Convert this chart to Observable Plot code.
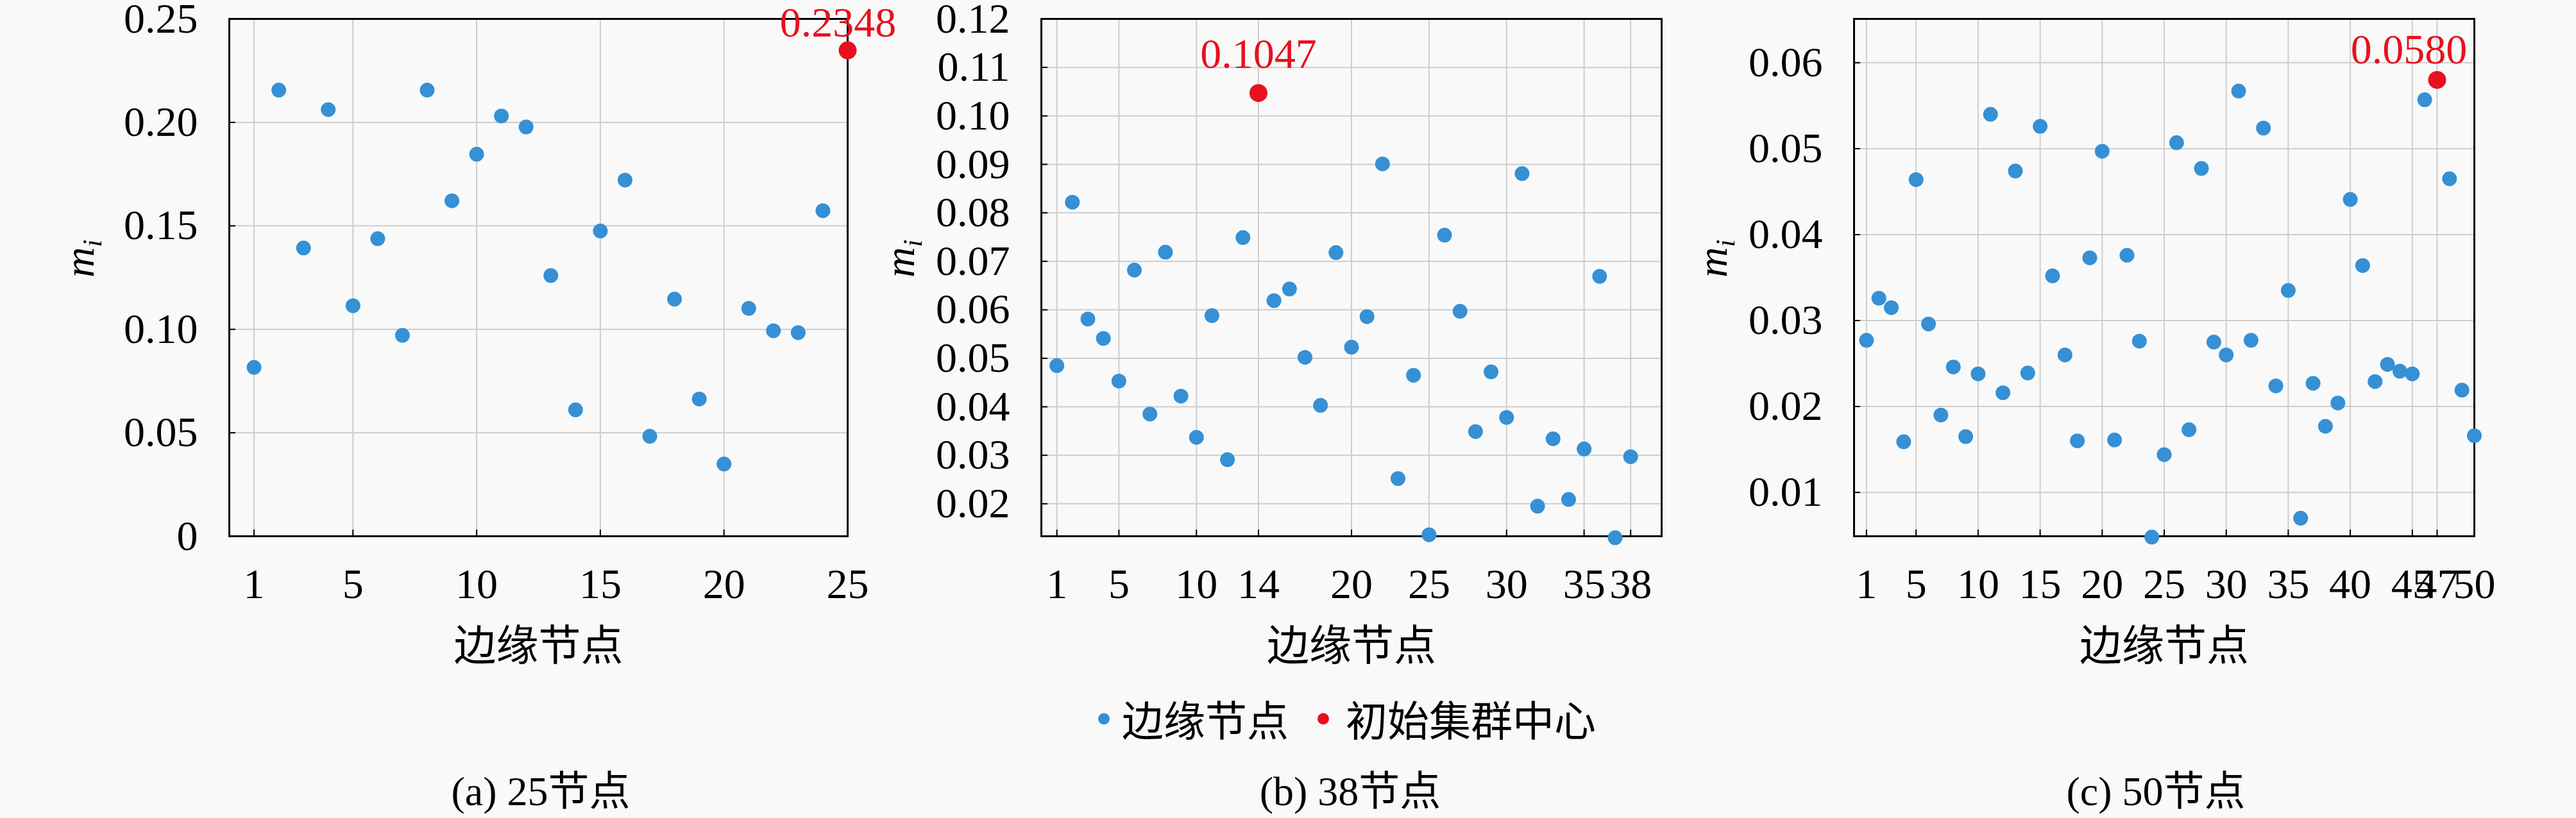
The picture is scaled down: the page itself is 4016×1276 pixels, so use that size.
<!DOCTYPE html>
<html><head><meta charset="utf-8">
<script src="https://cdn.jsdelivr.net/npm/d3@7"></script>
<script src="https://cdn.jsdelivr.net/npm/@observablehq/plot@0.6"></script>
<style>
html,body{margin:0;padding:0;background:#f9f9f9;}
#root{position:relative;width:4016px;height:1276px;overflow:hidden;background:#f9f9f9;}
.panel{position:absolute;top:0;font-family:"Liberation Serif",serif;}
.cap{position:absolute;top:1235px;transform:translate(-50%,-50%);font-family:"Liberation Serif","Noto Sans CJK SC",serif;font-size:64px;line-height:1.1;white-space:nowrap;color:#000;}
.legend{position:absolute;left:1712px;top:1121px;transform:translateY(-50%);display:flex;align-items:center;font-family:"Noto Sans CJK SC",sans-serif;font-size:65px;line-height:1.1;white-space:nowrap;color:#000;}
.sw{display:inline-block;width:18px;height:18px;border-radius:50%;}
</style></head><body><div id="root"></div>
<script>
// ---- text ----
const seriesNames = ["边缘节点", "初始集群中心"];
const seriesColors = ["#3590d5", "#e8101e"];
const xTitle = "边缘节点";
const yTitle = ["m", "i"];
const captions = ["(a) 25节点", "(b) 38节点", "(c) 50节点"];

// ---- panel (a): 25 nodes ----
const valuesA = [0.0816,0.2156,0.1393,0.2062,0.1114,0.1438,0.0971,0.2156,0.1621,0.1846,
                 0.2031,0.1978,0.1260,0.0611,0.1475,0.1721,0.0483,0.1146,0.0663,0.0349,
                 0.1101,0.0993,0.0984,0.1573,0.2348];
const centerA = 25;
const xTicksA = [1,5,10,15,20,25];
const yTicksA = [0,0.05,0.10,0.15,0.20,0.25];
const yTickLabelsA = ["0","0.05","0.10","0.15","0.20","0.25"];

// ---- panel (b): 38 nodes ----
const valuesB = [0.0485,0.0822,0.0581,0.0541,0.0453,0.0682,0.0385,0.0719,0.0422,0.0337,
                 0.0588,0.0291,0.0749,0.1047,0.0619,0.0643,0.0502,0.0403,0.0718,0.0523,
                 0.0586,0.0901,0.0252,0.0465,0.0136,0.0754,0.0597,0.0349,0.0472,0.0378,
                 0.0881,0.0195,0.0334,0.0209,0.0313,0.0669,0.0130,0.0297];
const centerB = 14;
const xTicksB = [1,5,10,14,20,25,30,35,38];
const yTicksB = [0.02,0.03,0.04,0.05,0.06,0.07,0.08,0.09,0.10,0.11,0.12];
const yTickLabelsB = ["0.02","0.03","0.04","0.05","0.06","0.07","0.08","0.09","0.10","0.11","0.12"];

// ---- panel (c): 50 nodes ----
const valuesC = [0.0277,0.0326,0.0315,0.0159,0.0464,0.0296,0.0190,0.0246,0.0165,0.0238,
                 0.0540,0.0216,0.0474,0.0239,0.0526,0.0352,0.0260,0.0160,0.0373,0.0497,
                 0.0161,0.0376,0.0276,0.0048,0.0144,0.0507,0.0173,0.0477,0.0275,0.0260,
                 0.0567,0.0277,0.0524,0.0224,0.0335,0.0070,0.0227,0.0177,0.0204,0.0441,
                 0.0364,0.0229,0.0249,0.0241,0.0238,0.0557,0.0580,0.0465,0.0219,0.0166];
const centerC = 47;
const xTicksC = [1,5,10,15,20,25,30,35,40,45,47,50];
const yTicksC = [0.01,0.02,0.03,0.04,0.05,0.06];
const yTickLabelsC = ["0.01","0.02","0.03","0.04","0.05","0.06"];

const panels = [
  {values: valuesA, center: centerA, xTicks: xTicksA, yTicks: yTicksA, yTickLabels: yTickLabelsA,
   xDomain: [0, 25], yDomain: [0, 0.25],
   left: 0, width: 1339, marginLeft: 357, marginRight: 18, ylabelDx: -233, labelDx: -15, labelDy: -22, capX: 843},
  {values: valuesB, center: centerB, xTicks: xTicksB, yTicks: yTicksB, yTickLabels: yTickLabelsB,
   xDomain: [0, 40], yDomain: [0.0133, 0.12],
   left: 1339, width: 1339, marginLeft: 284, marginRight: 88, ylabelDx: -220, labelDx: 0, labelDy: -39, capX: 2105},
  {values: valuesC, center: centerC, xTicks: xTicksC, yTicks: yTicksC, yTickLabels: yTickLabelsC,
   xDomain: [0, 50], yDomain: [0.0049, 0.0651],
   left: 2678, width: 1338, marginLeft: 212, marginRight: 159, ylabelDx: -220, labelDx: -44, labelDy: -26, capX: 3361}
];

const serif = "Liberation Serif";
const root = document.getElementById("root");

panels.forEach((cfg, k) => {
  const data = cfg.values.map((v, i) => ({node: i + 1, m: v}));
  const edge = data.filter(d => d.node !== cfg.center);
  const ctr = data.filter(d => d.node === cfg.center);
  const fmt = new Map(cfg.yTicks.map((t, i) => [t, cfg.yTickLabels[i]]));
  const plot = Plot.plot({
    width: cfg.width, height: 1060,
    marginLeft: cfg.marginLeft, marginRight: cfg.marginRight, marginTop: 29, marginBottom: 224,
    x: {domain: cfg.xDomain, axis: null, label: null},
    y: {domain: cfg.yDomain, axis: null, label: null},
    style: "background: transparent; overflow: visible; max-width: none; color: #000; font-family: 'Liberation Serif', serif;",
    marks: [
      Plot.gridX(cfg.xTicks, {stroke: "#cdcdcd", strokeOpacity: 1, strokeWidth: 2}),
      Plot.gridY(cfg.yTicks, {stroke: "#cdcdcd", strokeOpacity: 1, strokeWidth: 2}),
      Plot.axisX(cfg.xTicks, {tickSize: -10, tickFormat: () => "", strokeWidth: 2}),
      Plot.axisY(cfg.yTicks, {tickSize: -10, tickFormat: () => "", strokeWidth: 2}),
      Plot.axisX(cfg.xTicks, {tickSize: 0, tickPadding: 50, fontSize: 66, fill: "#000", fontFamily: serif, tickFormat: d => String(d)}),
      Plot.axisY(cfg.yTicks, {tickSize: 0, tickPadding: 49, fontSize: 66, fill: "#000", fontFamily: serif, tickFormat: d => fmt.get(d)}),
      Plot.frame({stroke: "#000", strokeWidth: 3}),
      Plot.dot(edge, {x: "node", y: "m", r: 11.5, fill: seriesColors[0]}),
      Plot.dot(ctr, {x: "node", y: "m", r: 14, fill: seriesColors[1]}),
      Plot.text(ctr, {x: "node", y: "m", text: d => d.m.toFixed(4), fill: seriesColors[1], fontSize: 66,
                      fontFamily: serif, lineAnchor: "bottom", dx: cfg.labelDx, dy: cfg.labelDy}),
      Plot.text([xTitle], {frameAnchor: "bottom", text: d => d, dy: 172, lineAnchor: "middle",
                           fontSize: 66, fontFamily: "Noto Sans CJK SC", fill: "#000"}),
      Plot.text([yTitle.join("")], {frameAnchor: "left", text: d => d, dx: cfg.ylabelDx, rotate: -90,
                                    fontSize: 66, fontFamily: serif, fontStyle: "italic", fill: "#000"})
    ]
  });
  const svg = d3.select(plot);
  svg.selectAll("text").filter(function() { return this.textContent === yTitle.join(""); })
    .each(function() {
      const t = d3.select(this);
      t.text("");
      t.append("tspan").text(yTitle[0]);
      t.append("tspan").attr("font-size", 42).attr("dy", 12).text(yTitle[1]);
    });
  const div = document.createElement("div");
  div.className = "panel";
  div.style.left = cfg.left + "px";
  div.style.width = cfg.width + "px";
  div.appendChild(plot);
  root.appendChild(div);

  const cap = document.createElement("div");
  cap.className = "cap";
  cap.style.left = cfg.capX + "px";
  cap.textContent = captions[k];
  root.appendChild(cap);
});

// legend
const leg = document.createElement("div");
leg.className = "legend";
seriesNames.forEach((name, i) => {
  const sw = document.createElement("span");
  sw.className = "sw";
  sw.style.background = seriesColors[i];
  sw.style.marginLeft = i === 0 ? "0px" : "45px";
  const tx = document.createElement("span");
  tx.textContent = name;
  tx.style.marginLeft = i === 0 ? "19px" : "26px";
  leg.appendChild(sw);
  leg.appendChild(tx);
});
root.appendChild(leg);
</script>
</body></html>
